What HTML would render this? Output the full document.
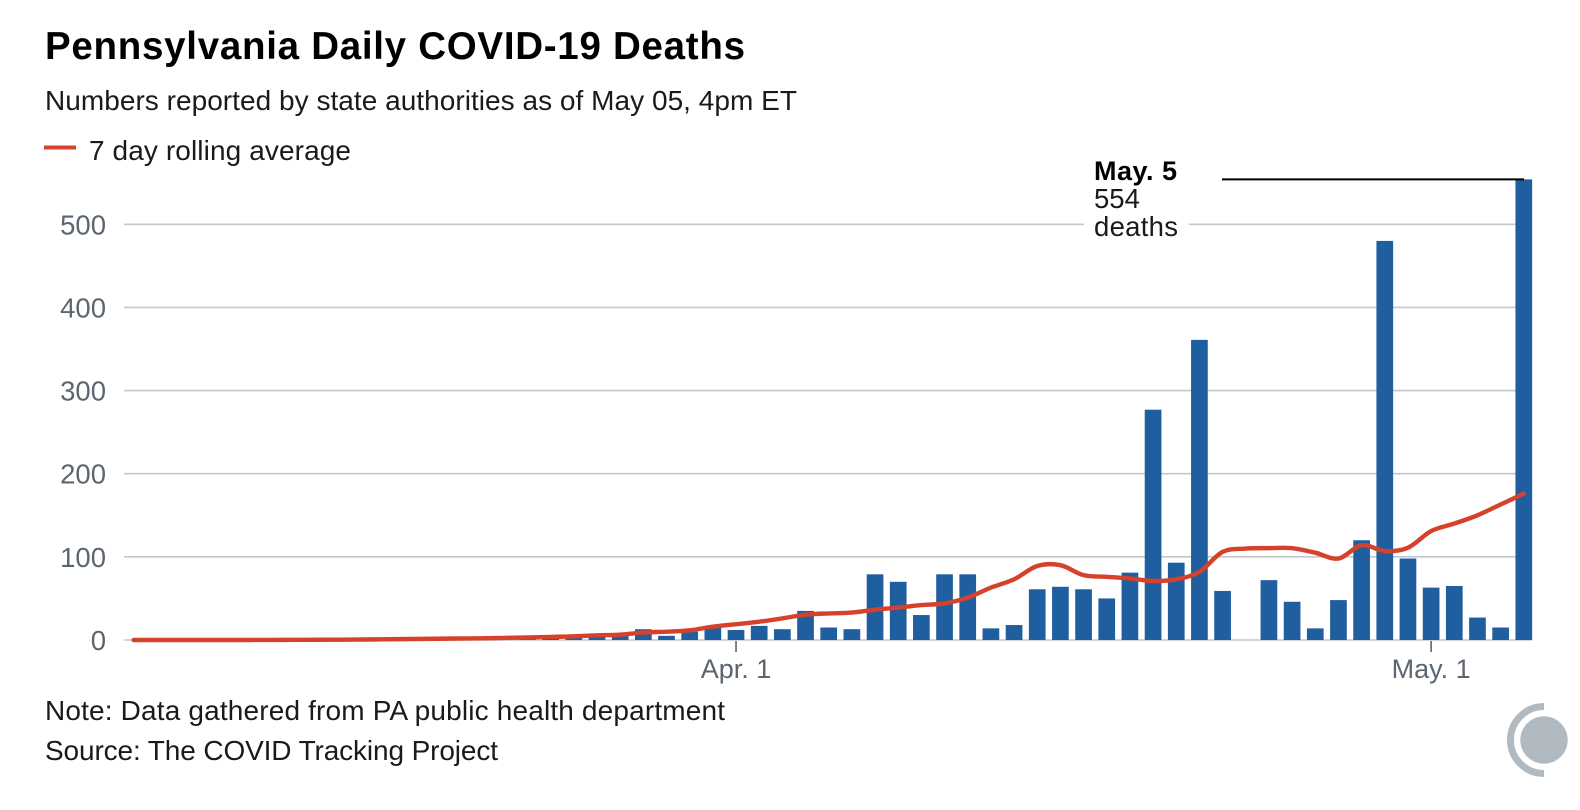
<!DOCTYPE html>
<html lang="en">
<head>
<meta charset="utf-8">
<title>Pennsylvania Daily COVID-19 Deaths</title>
<style>
html,body{margin:0;padding:0;background:#fff;width:1580px;height:810px;overflow:hidden}
svg{display:block;font-family:"Liberation Sans",Arial,sans-serif}
</style>
</head>
<body>
<svg id="chart" xmlns="http://www.w3.org/2000/svg" width="1580" height="810" viewBox="0 0 1580 810">
  <rect width="1580" height="810" fill="#fff"/>
  <text x="45" y="59" font-size="38.5" font-weight="700" fill="#000" textLength="700" lengthAdjust="spacing">Pennsylvania Daily COVID-19 Deaths</text>
  <text x="45" y="110" font-size="28" fill="#1a1a1a" textLength="752" lengthAdjust="spacing">Numbers reported by state authorities as of May 05, 4pm ET</text>
  <line x1="44" x2="76" y1="147.5" y2="147.5" stroke="#d5412a" stroke-width="4"/>
  <text x="89" y="160" font-size="28" fill="#1a1a1a" textLength="262" lengthAdjust="spacing">7 day rolling average</text>
  <g id="grid"></g>
  <g id="yticks"></g>
  <g id="bars"></g>
  <g id="xticks"></g>
  <path id="avg" fill="none" stroke="#d5412a" stroke-width="4.4" stroke-linecap="round" stroke-linejoin="round"></path>
  <g id="annotation">
    <rect id="annotation-bg" x="1084" y="190" width="105" height="52" fill="#fff"/>
    <line id="leader" x1="1222" x2="1524" stroke="#000" stroke-width="2"/>
    <text x="1094" y="180" font-size="27" font-weight="700" fill="#000" textLength="83" lengthAdjust="spacing">May. 5</text>
    <text x="1094" y="208" font-size="27.5" fill="#1a1a1a">554</text>
    <text x="1094" y="236" font-size="27.5" fill="#1a1a1a" textLength="84" lengthAdjust="spacing">deaths</text>
  </g>
  <text x="45" y="720" font-size="28" fill="#1a1a1a" textLength="680" lengthAdjust="spacing">Note: Data gathered from PA public health department</text>
  <text x="45" y="760" font-size="28" fill="#1a1a1a" textLength="453" lengthAdjust="spacing">Source: The COVID Tracking Project</text>
  <g>
    <circle cx="1544" cy="740" r="23.7" fill="#b1bac1"/>
    <path d="M1544 706.5A33.5 33.5 0 0 0 1544 773.5" fill="none" stroke="#b1bac1" stroke-width="7"/>
  </g>
</svg>
<script>
const categories = ["Mar 6","Mar 7","Mar 8","Mar 9","Mar 10","Mar 11","Mar 12","Mar 13","Mar 14","Mar 15","Mar 16","Mar 17","Mar 18","Mar 19","Mar 20","Mar 21","Mar 22","Mar 23","Mar 24","Mar 25","Mar 26","Mar 27","Mar 28","Mar 29","Mar 30","Mar 31","Apr 1","Apr 2","Apr 3","Apr 4","Apr 5","Apr 6","Apr 7","Apr 8","Apr 9","Apr 10","Apr 11","Apr 12","Apr 13","Apr 14","Apr 15","Apr 16","Apr 17","Apr 18","Apr 19","Apr 20","Apr 21","Apr 22","Apr 23","Apr 24","Apr 25","Apr 26","Apr 27","Apr 28","Apr 29","Apr 30","May 1","May 2","May 3","May 4","May 5"];
const dailyDeaths = [0,0,0,0,0,0,0,0,0,0,0,0,0,0,0,1,0,2,2,3,5,7,13,5,10,15,12,17,13,35,15,13,79,70,30,79,79,14,18,61,64,61,50,81,277,93,361,59,0,72,46,14,48,120,480,98,63,65,27,15,554];
const rollingAverage = [0,0,0,0,0,0,0.1,0.2,0.3,0.4,0.6,0.9,1.2,1.5,1.8,2,2.5,3,3.7,4.4,5.6,6.4,9,10,11.6,16,19,22,26,30.5,32,33,36.5,39,42,44,51,63,73,89,90,78,76,74,71,73,82,106,110,110.5,110.5,105,98,114,107,111,131,140,150,163,176];
const yTickValues = [0,100,200,300,400,500];
const xTickDates = ["Apr 1","May 1"];
const xTickLabels = ["Apr. 1","May. 1"];

const SVGNS = "http://www.w3.org/2000/svg";
const xScale = i => 133.6 + i * 23.17;
const yScale = v => 640 - v * 0.8314;
const barWidth = 16.7;

function make(tag, parent, attrs, text) {
  const el = document.createElementNS(SVGNS, tag);
  for (const k in attrs) el.setAttribute(k, attrs[k]);
  if (text !== undefined) el.textContent = text;
  parent.appendChild(el);
  return el;
}

const gridG = document.getElementById("grid");
const yTicksG = document.getElementById("yticks");
yTickValues.forEach(v => {
  const gridLine = make("line", gridG, {x1:124, x2:1532, y1:yScale(v), y2:yScale(v), stroke:"#c2c8cf", "stroke-width":1.6});
  
  
  const tickLabel = make("text", yTicksG, {x:106, y:yScale(v)+10, "text-anchor":"end", "font-size":27.5, fill:"#5b6670"}, String(v));
  
  
});

const barsG = document.getElementById("bars");
dailyDeaths.forEach((v, i) => {
  if (v <= 0) return;
  const bar = make("rect", barsG, {x:xScale(i)-barWidth/2, y:yScale(v), width:barWidth, height:yScale(0)-yScale(v), fill:"#205f9f"});
  
  
});

const xTicksG = document.getElementById("xticks");
xTickDates.forEach((d, k) => {
  const x = xScale(categories.indexOf(d));
  const tick = make("line", xTicksG, {x1:x, x2:x, y1:641, y2:652, stroke:"#5b6670", "stroke-width":1.6});
  
  
  const tickText = make("text", xTicksG, {x:x, y:678, "text-anchor":"middle", "font-size":27, fill:"#5b6670"}, xTickLabels[k]);
  
  
});

const pts = rollingAverage.map((v, i) => [xScale(i), yScale(v)]);
let d = "M" + pts[0][0].toFixed(2) + " " + pts[0][1].toFixed(2);
for (let i = 0; i < pts.length - 1; i++) {
  const p0 = pts[Math.max(i-1,0)], p1 = pts[i], p2 = pts[i+1], p3 = pts[Math.min(i+2,pts.length-1)];
  const c1x = p1[0] + (p2[0]-p0[0])/6, c1y = p1[1] + (p2[1]-p0[1])/6;
  const c2x = p2[0] - (p3[0]-p1[0])/6, c2y = p2[1] - (p3[1]-p1[1])/6;
  d += "C" + [c1x,c1y,c2x,c2y,p2[0],p2[1]].map(n => n.toFixed(2)).join(" ");
}
document.getElementById("avg").setAttribute("d", d);

const leader = document.getElementById("leader");
const lastY = yScale(dailyDeaths[dailyDeaths.length-1]);
leader.setAttribute("y1", lastY);
leader.setAttribute("y2", lastY);
</script>
</body>
</html>
